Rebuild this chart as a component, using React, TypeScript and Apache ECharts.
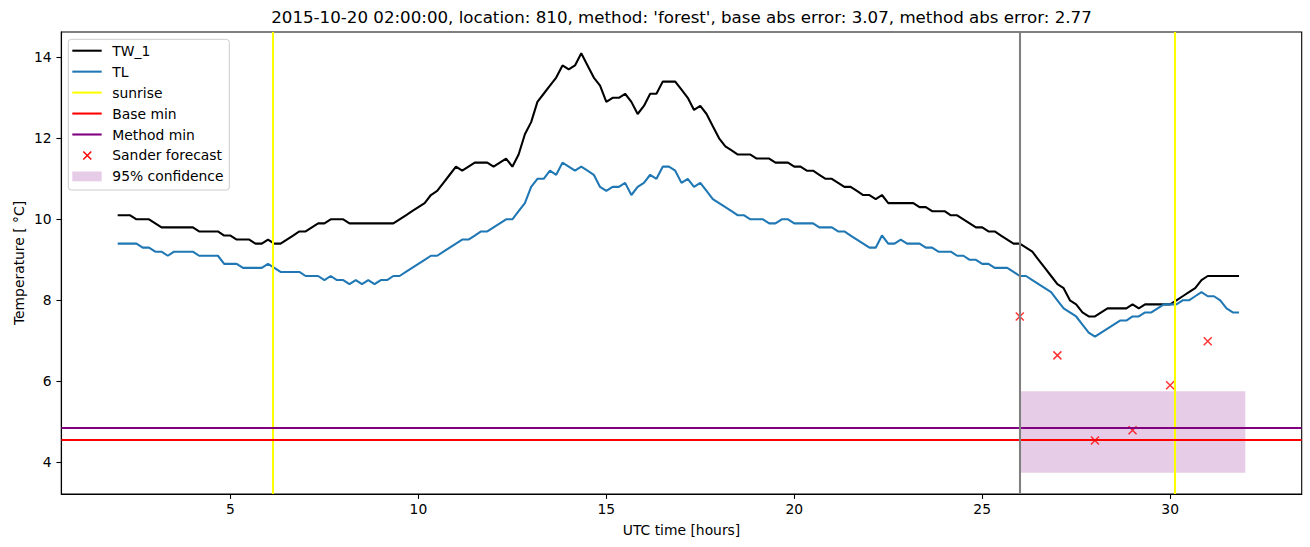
import { useEffect, useRef } from "react";
import * as echarts from "echarts";

// ---- data (10-minute steps starting at 02:00 UTC) ----
const START_HOUR = 2;
const STEP_HOURS = 1 / 6;

const TW_1 = [
  10.1, 10.1, 10.1, 10.0, 10.0, 10.0, 9.9, 9.8, 9.8, 9.8,
  9.8, 9.8, 9.8, 9.7, 9.7, 9.7, 9.7, 9.6, 9.6, 9.5,
  9.5, 9.5, 9.4, 9.4, 9.5, 9.4, 9.4, 9.5, 9.6, 9.7,
  9.7, 9.8, 9.9, 9.9, 10.0, 10.0, 10.0, 9.9, 9.9, 9.9,
  9.9, 9.9, 9.9, 9.9, 9.9, 10.0, 10.1, 10.2, 10.3, 10.4,
  10.6, 10.7, 10.9, 11.1, 11.3, 11.2, 11.3, 11.4, 11.4, 11.4,
  11.3, 11.4, 11.5, 11.3, 11.6, 12.1, 12.4, 12.9, 13.1, 13.3,
  13.5, 13.8, 13.7, 13.8, 14.1, 13.8, 13.5, 13.3, 12.9, 13.0,
  13.0, 13.1, 12.9, 12.6, 12.8, 13.1, 13.1, 13.4, 13.4, 13.4,
  13.2, 13.0, 12.7, 12.8, 12.6, 12.3, 12.0, 11.8, 11.7, 11.6,
  11.6, 11.6, 11.5, 11.5, 11.5, 11.4, 11.4, 11.4, 11.3, 11.3,
  11.2, 11.2, 11.1, 11.0, 11.0, 10.9, 10.8, 10.8, 10.7, 10.6,
  10.6, 10.5, 10.6, 10.4, 10.4, 10.4, 10.4, 10.4, 10.3, 10.3,
  10.2, 10.2, 10.2, 10.1, 10.1, 10.0, 9.9, 9.8, 9.8, 9.7,
  9.7, 9.6, 9.5, 9.4, 9.4, 9.3, 9.2, 9.0, 8.8, 8.6,
  8.4, 8.3, 8.0, 7.9, 7.7, 7.6, 7.6, 7.7, 7.8, 7.8,
  7.8, 7.8, 7.9, 7.8, 7.9, 7.9, 7.9, 7.9, 7.9, 8.0,
  8.1, 8.2, 8.3, 8.5, 8.6, 8.6, 8.6, 8.6, 8.6, 8.6,
];

const TL = [
  9.4, 9.4, 9.4, 9.4, 9.3, 9.3, 9.2, 9.2, 9.1, 9.2,
  9.2, 9.2, 9.2, 9.1, 9.1, 9.1, 9.1, 8.9, 8.9, 8.9,
  8.8, 8.8, 8.8, 8.8, 8.9, 8.8, 8.7, 8.7, 8.7, 8.7,
  8.6, 8.6, 8.6, 8.5, 8.6, 8.5, 8.5, 8.4, 8.5, 8.4,
  8.5, 8.4, 8.5, 8.5, 8.6, 8.6, 8.7, 8.8, 8.9, 9.0,
  9.1, 9.1, 9.2, 9.3, 9.4, 9.5, 9.5, 9.6, 9.7, 9.7,
  9.8, 9.9, 10.0, 10.0, 10.2, 10.4, 10.8, 11.0, 11.0, 11.2,
  11.1, 11.4, 11.3, 11.2, 11.3, 11.2, 11.1, 10.8, 10.7, 10.8,
  10.8, 10.9, 10.6, 10.8, 10.9, 11.1, 11.0, 11.3, 11.3, 11.2,
  10.9, 11.0, 10.8, 10.9, 10.7, 10.5, 10.4, 10.3, 10.2, 10.1,
  10.1, 10.0, 10.0, 10.0, 9.9, 9.9, 10.0, 10.0, 9.9, 9.9,
  9.9, 9.9, 9.8, 9.8, 9.8, 9.7, 9.7, 9.6, 9.5, 9.4,
  9.3, 9.3, 9.6, 9.4, 9.4, 9.5, 9.4, 9.4, 9.4, 9.3,
  9.3, 9.2, 9.2, 9.2, 9.1, 9.1, 9.0, 9.0, 8.9, 8.9,
  8.8, 8.8, 8.8, 8.7, 8.6, 8.6, 8.5, 8.4, 8.3, 8.2,
  8.0, 7.8, 7.7, 7.6, 7.4, 7.2, 7.1, 7.2, 7.3, 7.4,
  7.5, 7.5, 7.6, 7.6, 7.7, 7.7, 7.8, 7.9, 7.9, 7.9,
  8.0, 8.0, 8.1, 8.2, 8.1, 8.1, 8.0, 7.8, 7.7, 7.7,
];

const SUNRISE_HOURS = [6.13, 30.13];
const NOW_HOUR = 26;
const BASE_MIN = 4.55;
const METHOD_MIN = 4.85;
const FORECAST_HOURS = [26, 27, 28, 29, 30, 31];
const FORECAST_VALUES = [7.6, 6.64, 4.54, 4.79, 5.9, 6.99];
const CONF_HOURS = [26, 32];
const CONF_LOW = 3.744;
const CONF_HIGH = 5.753;

const X_TICKS = [5, 10, 15, 20, 25, 30];
const Y_TICKS = [4, 6, 8, 10, 12, 14];
const X_RANGE = [0.5, 33.5];
const Y_RANGE = [3.217, 14.625];

const TITLE =
  "2015-10-20 02:00:00, location: 810, method: 'forest', base abs error: 3.07, method abs error: 2.77";
const X_NAME = "UTC time [hours]";
const Y_NAME = "Temperature [ °C]";
const LEGEND_NAMES = [
  "TW_1",
  "TL",
  "sunrise",
  "Base min",
  "Method min",
  "Sander forecast",
  "95% confidence",
];

const FONT = "DejaVu Sans";
const FS = 13.89;
const FS_TITLE = 16.67;
const LW = 2.08;
const CROSS = "path://M0,0L1,1M1,0L0,1";

function buildLegend(): any[] {
  const x0 = 68.3;
  const y0 = 39.3;
  const rowY0 = 50.7;
  const dy = 20.95;
  const hx1 = 72.3;
  const hx2 = 101.7;
  const tx = 112.3;
  const lineColors = ["#000000", "#1f77b4", "#ffff00", "#ff0000", "#800080"];
  const els: any[] = [
    {
      type: "rect",
      shape: { x: x0, y: y0, width: 161, height: 150.7, r: 3 },
      style: { fill: "rgba(255,255,255,0.8)", stroke: "#cccccc", lineWidth: 1 },
      z: 100,
    },
  ];
  LEGEND_NAMES.forEach((name, i) => {
    const y = rowY0 + i * dy;
    if (i < 5) {
      els.push({
        type: "line",
        shape: { x1: hx1, y1: y, x2: hx2, y2: y },
        style: { stroke: lineColors[i], lineWidth: LW },
        z: 101,
      });
    } else if (i === 5) {
      const cx = 87.3;
      const r = 4;
      els.push({
        type: "line",
        shape: { x1: cx - r, y1: y - r, x2: cx + r, y2: y + r },
        style: { stroke: "#ff0000", lineWidth: 1.5 },
        z: 101,
      });
      els.push({
        type: "line",
        shape: { x1: cx - r, y1: y + r, x2: cx + r, y2: y - r },
        style: { stroke: "#ff0000", lineWidth: 1.5 },
        z: 101,
      });
    } else {
      els.push({
        type: "rect",
        shape: { x: hx1, y: y - 4.9, width: hx2 - hx1, height: 9.8 },
        style: { fill: "rgba(128,0,128,0.2)" },
        z: 101,
      });
    }
    els.push({
      type: "text",
      x: tx,
      y: y,
      style: {
        text: name,
        fill: "#000",
        font: `${FS}px '${FONT}'`,
        textAlign: "left",
        textVerticalAlign: "middle",
      },
      z: 101,
    });
  });
  return els;
}

export default function App() {
  const ref = useRef<HTMLDivElement>(null);

  useEffect(() => {
    if (!ref.current) return;
    const chart = echarts.init(ref.current, undefined, { renderer: "svg" });
    const hours = TW_1.map((_, i) => START_HOUR + i * STEP_HOURS);

    const axisCommon = {
      type: "value" as const,
      splitLine: { show: false },
      axisLine: { show: true, onZero: false, lineStyle: { color: "#000", width: 1.1 } },
    };

    const option: any = {
      animation: false,
      backgroundColor: "#ffffff",
      textStyle: { fontFamily: FONT },
      grid: {
        left: 61.3,
        right: 8.3,
        top: 32,
        bottom: 53,
        show: true,
        borderColor: "#000",
        borderWidth: 1.1,
        backgroundColor: "transparent",
        containLabel: false,
      },
      xAxis: {
        ...axisCommon,
        min: X_RANGE[0],
        max: X_RANGE[1],
        axisTick: {
          show: true,
          inside: false,
          length: 4.9,
          lineStyle: { color: "#000", width: 1.1 },
          customValues: X_TICKS,
        },
        axisLabel: {
          color: "#000",
          fontSize: FS,
          fontFamily: FONT,
          margin: 8,
          customValues: X_TICKS,
        },
      },
      yAxis: {
        ...axisCommon,
        min: Y_RANGE[0],
        max: Y_RANGE[1],
        axisTick: {
          show: true,
          inside: false,
          length: 4.9,
          lineStyle: { color: "#000", width: 1.1 },
          customValues: Y_TICKS,
        },
        axisLabel: {
          color: "#000",
          fontSize: FS,
          fontFamily: FONT,
          margin: 9.6,
          customValues: Y_TICKS,
        },
      },
      series: [
        {
          type: "line",
          name: "95% confidence",
          data: [],
          silent: true,
          z: 1,
          markArea: {
            silent: true,
            itemStyle: { color: "rgba(128,0,128,0.2)" },
            data: [
              [
                { xAxis: CONF_HOURS[0], yAxis: CONF_LOW },
                { xAxis: CONF_HOURS[1], yAxis: CONF_HIGH },
              ],
            ],
          },
        },
        {
          type: "line",
          name: "TW_1",
          data: hours.map((h, i) => [h, TW_1[i]]),
          showSymbol: false,
          silent: true,
          lineStyle: { color: "#000000", width: LW },
          z: 2,
        },
        {
          type: "line",
          name: "TL",
          data: hours.map((h, i) => [h, TL[i]]),
          showSymbol: false,
          silent: true,
          lineStyle: { color: "#1f77b4", width: LW },
          z: 2,
        },
        {
          type: "line",
          name: "sunrise",
          data: [],
          silent: true,
          z: 3,
          markLine: {
            silent: true,
            symbol: ["none", "none"],
            label: { show: false },
            lineStyle: { color: "#ffff00", width: LW, type: "solid" },
            data: SUNRISE_HOURS.map((h) => ({ xAxis: h })),
          },
        },
        {
          type: "line",
          name: "Base min",
          data: [],
          silent: true,
          z: 3,
          markLine: {
            silent: true,
            symbol: ["none", "none"],
            label: { show: false },
            lineStyle: { color: "#ff0000", width: LW, type: "solid" },
            data: [{ yAxis: BASE_MIN }],
          },
        },
        {
          type: "line",
          name: "Method min",
          data: [],
          silent: true,
          z: 3,
          markLine: {
            silent: true,
            symbol: ["none", "none"],
            label: { show: false },
            lineStyle: { color: "#800080", width: LW, type: "solid" },
            data: [{ yAxis: METHOD_MIN }],
          },
        },
        {
          type: "line",
          name: "now",
          data: [],
          silent: true,
          z: 3,
          markLine: {
            silent: true,
            symbol: ["none", "none"],
            label: { show: false },
            lineStyle: { color: "#808080", width: LW, type: "solid" },
            data: [{ xAxis: NOW_HOUR }],
          },
        },
        {
          type: "scatter",
          name: "Sander forecast",
          data: FORECAST_HOURS.map((h, i) => [h, FORECAST_VALUES[i]]),
          symbol: CROSS,
          symbolSize: 8,
          silent: true,
          itemStyle: { color: "#ff0000", borderColor: "#ff0000", borderWidth: 1.5 },
          z: 4,
        },
      ],
      graphic: [
        {
          type: "text",
          x: 681.5,
          y: 17.5,
          style: {
            text: TITLE,
            fill: "#000",
            font: `${FS_TITLE}px '${FONT}'`,
            textAlign: "center",
            textVerticalAlign: "middle",
          },
        },
        {
          type: "text",
          x: 681.5,
          y: 529.5,
          style: {
            text: X_NAME,
            fill: "#000",
            font: `${FS}px '${FONT}'`,
            textAlign: "center",
            textVerticalAlign: "middle",
          },
        },
        {
          type: "text",
          x: 18.5,
          y: 263,
          rotation: Math.PI / 2,
          style: {
            text: Y_NAME,
            fill: "#000",
            font: `${FS}px '${FONT}'`,
            textAlign: "center",
            textVerticalAlign: "middle",
          },
        },
        ...buildLegend(),
      ],
    };

    chart.setOption(option);
    return () => {
      chart.dispose();
    };
  }, []);

  return (
    <div
      ref={ref}
      style={{ position: "fixed", left: 0, top: 0, width: 1310, height: 547 }}
    />
  );
}
